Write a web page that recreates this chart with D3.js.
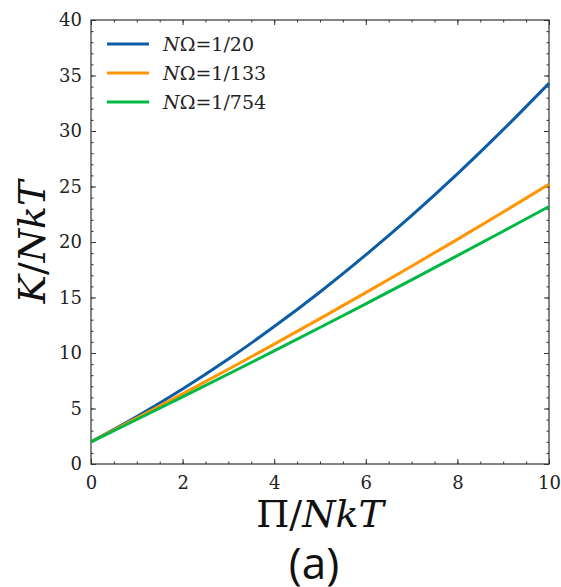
<!DOCTYPE html>
<html>
<head>
<meta charset="utf-8">
<script src="https://cdn.jsdelivr.net/npm/d3@7"></script>
<style>
  body { margin: 0; background: #fff; }
  svg { display: block; }
  .domain { stroke: none; }
  .tick line { stroke: #333; stroke-width: 1; }
</style>
</head>
<body>
<script>
// values
const xs = [0, 1, 2, 3, 4, 5, 6, 7, 8, 9, 10];
const k20 = [2.0, 4.28, 6.76, 9.46, 12.38, 15.5, 18.84, 22.38, 26.14, 30.12, 34.3];
const k133 = [2.0, 4.14, 6.32, 8.54, 10.8, 13.1, 15.44, 17.82, 20.24, 22.7, 25.2];
const k754 = [2.0, 4.01, 6.05, 8.11, 10.19, 12.3, 14.43, 16.59, 18.77, 20.97, 23.2];
const labels = ["1/20", "1/133", "1/754"];
const colors = ["#0C5DA5", "#FF9500", "#00B945"];
const xTicks = [0, 2, 4, 6, 8, 10];
const yTicks = [0, 5, 10, 15, 20, 25, 30, 35, 40];

const width = 561, height = 587;
const margin = {left: 91, right: 12, top: 20, bottom: 123};

const svg = d3.select('body').append('svg')
  .attr('width', width)
  .attr('height', height);

const x = d3.scaleLinear().domain([0, 10]).range([margin.left, width - margin.right]);
const y = d3.scaleLinear().domain([0, 40]).range([height - margin.bottom, margin.top]);

const x0 = x.range()[0], x1 = x.range()[1];
const y0 = y.range()[0], y1 = y.range()[1];

// minor ticks (all four sides, inward)
const xMinor = d3.range(0, 10.01, 0.5);
const yMinor = d3.range(0, 40.01, 1);
svg.append('g').attr('transform', `translate(0,${y0})`)
  .call(d3.axisBottom(x).tickValues(xMinor).tickSize(-2.5).tickFormat(''));
svg.append('g').attr('transform', `translate(0,${y1})`)
  .call(d3.axisTop(x).tickValues(xMinor).tickSize(-2.5).tickFormat(''));
svg.append('g').attr('transform', `translate(${x0},0)`)
  .call(d3.axisLeft(y).tickValues(yMinor).tickSize(-2.5).tickFormat(''));
svg.append('g').attr('transform', `translate(${x1},0)`)
  .call(d3.axisRight(y).tickValues(yMinor).tickSize(-2.5).tickFormat(''));

// major ticks
const xAxis = svg.append('g').attr('transform', `translate(0,${y0})`)
  .call(d3.axisBottom(x).tickValues(xTicks).tickSize(-5).tickPadding(12).tickFormat(d3.format('d')));
svg.append('g').attr('transform', `translate(0,${y1})`)
  .call(d3.axisTop(x).tickValues(xTicks).tickSize(-5).tickFormat(''));
const yAxis = svg.append('g').attr('transform', `translate(${x0},0)`)
  .call(d3.axisLeft(y).tickValues(yTicks).tickSize(-5).tickPadding(9).tickFormat(d3.format('d')));
svg.append('g').attr('transform', `translate(${x1},0)`)
  .call(d3.axisRight(y).tickValues(yTicks).tickSize(-5).tickFormat(''));

[xAxis, yAxis].forEach((a) => {
  a.attr('font-family', null).attr('font-size', null);
  a.selectAll('text')
    .style('font-family', '"DejaVu Serif", serif')
    .style('font-size', '18px')
    .attr('fill', '#222');
});

// frame
svg.append('rect')
  .attr('x', x0).attr('y', y1)
  .attr('width', x1 - x0).attr('height', y0 - y1)
  .attr('fill', 'none').attr('stroke', '#333').attr('stroke-width', 1.2);

// curves
const series = [k20, k133, k754];
const line = d3.line()
  .x((d, i) => x(xs[i]))
  .y((d) => y(d))
  .curve(d3.curveMonotoneX);

svg.append('g').selectAll('path')
  .data(series)
  .enter().append('path')
  .attr('d', line)
  .attr('fill', 'none')
  .attr('stroke', (d, i) => colors[i])
  .attr('stroke-width', 3);

// legend
const leg = svg.append('g').selectAll('g')
  .data(labels)
  .enter().append('g')
  .attr('transform', (d, i) => `translate(107,${44 + i * 29})`);
leg.append('line')
  .attr('x1', 0).attr('x2', 42)
  .attr('stroke', (d, i) => colors[i])
  .attr('stroke-width', 3);
const lt = leg.append('text')
  .attr('x', 56).attr('y', 7)
  .style('font-family', '"DejaVu Serif", serif')
  .style('font-size', '19px')
  .attr('fill', '#222');
lt.append('tspan').style('font-style', 'italic').text('N');
lt.append('tspan').text((d) => 'Ω=' + d);

// axis labels
const xl = svg.append('text')
  .attr('x', (x0 + x1) / 2).attr('y', 527)
  .attr('text-anchor', 'middle')
  .style('font-family', '"DejaVu Serif", serif')
  .style('font-size', '38px')
  .attr('fill', '#111');
xl.append('tspan').text('Π/');
xl.append('tspan').style('font-style', 'italic').text('NkT');

const yl = svg.append('text')
  .attr('transform', `translate(45,${(y0 + y1) / 2}) rotate(-90)`)
  .attr('text-anchor', 'middle')
  .style('font-family', '"DejaVu Serif", serif')
  .style('font-size', '38px')
  .attr('fill', '#111');
yl.append('tspan').style('font-style', 'italic').text('K');
yl.append('tspan').text('/');
yl.append('tspan').style('font-style', 'italic').text('NkT');

// panel label (cut off by the bottom edge, as in the original)
svg.append('text')
  .attr('x', 314).attr('y', 579)
  .attr('text-anchor', 'middle')
  .style('font-family', '"Open Sans", sans-serif')
  .style('font-size', '44px')
  .attr('fill', '#111')
  .text('(a)');
</script>
</body>
</html>
